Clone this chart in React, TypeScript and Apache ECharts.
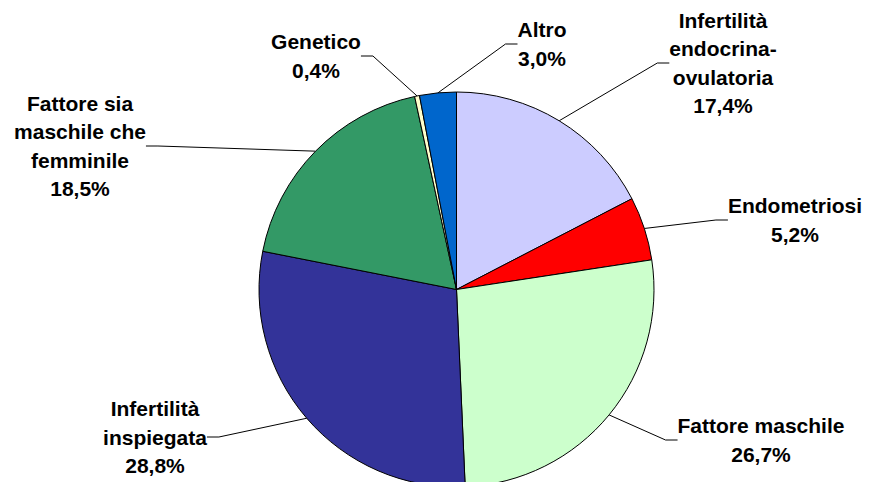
import React, { useEffect, useRef } from "react";
import * as echarts from "echarts";

const categories = [
  "Infertilità\nendocrina-\novulatoria",
  "Endometriosi",
  "Fattore maschile",
  "Infertilità\ninspiegata",
  "Fattore sia\nmaschile che\nfemminile",
  "Genetico",
  "Altro",
];
const values = [17.4, 5.2, 26.7, 28.8, 18.5, 0.4, 3.0];
const colors = ["#CCCCFF", "#FF0000", "#CCFFCC", "#333399", "#339966", "#FFFFCC", "#0066CC"];
// label block centers (styling positions)
const labelPos: [number, number][] = [
  [723, 63],
  [795, 220],
  [761, 440],
  [155, 437],
  [80, 146],
  [316, 56],
  [542, 44],
];

export default function App() {
  const ref = useRef<HTMLDivElement>(null);
  useEffect(() => {
    if (!ref.current) return;
    const chart = echarts.init(ref.current, undefined, { renderer: "svg" });
    chart.setOption({
      animation: false,
      backgroundColor: "#ffffff",
      series: [
        {
          type: "pie",
          center: [456.5, 289.5],
          radius: 197.5,
          startAngle: 90,
          clockwise: true,
          avoidLabelOverlap: false,
          data: categories.map((c, i) => ({
            name: c,
            value: values[i],
            itemStyle: { color: colors[i] },
          })),
          itemStyle: { borderColor: "#000000", borderWidth: 1 },
          label: {
            show: true,
            formatter: (p: any) =>
              p.name + "\n" + p.value.toFixed(1).replace(".", ",") + "%",
            fontFamily: "Liberation Sans, Arial, sans-serif",
            fontWeight: "bold",
            fontSize: 21,
            lineHeight: 28.5,
            color: "#000000",
            align: "center",
          },
          labelLine: {
            show: true,
            length: 20,
            length2: 12,
            lineStyle: { color: "#000000", width: 1 },
          },
          labelLayout: (params: any) => {
            const p = labelPos[params.dataIndex];
            return {
              x: p[0],
              y: p[1],
              align: "center",
              verticalAlign: "middle",
            };
          },
          emphasis: { disabled: true },
        },
      ],
    });
    return () => chart.dispose();
  }, []);
  return (
    <div
      ref={ref}
      style={{ position: "fixed", left: 0, top: 0, width: 871, height: 482 }}
    />
  );
}
